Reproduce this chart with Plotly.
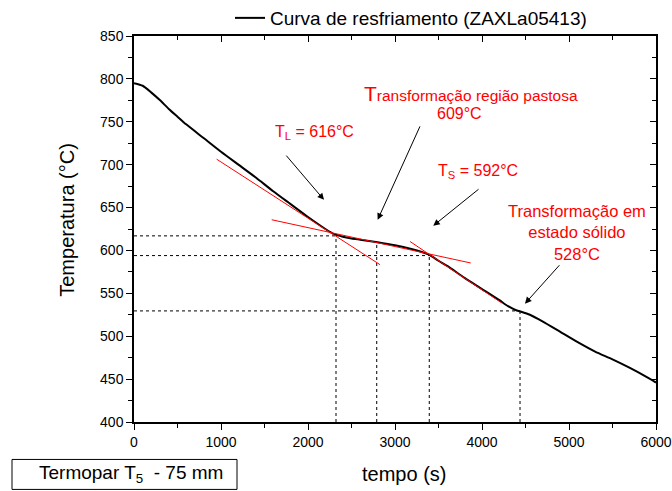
import plotly.graph_objects as go

# ---- data ----
time_s = [0, 100, 200, 300, 400, 500, 600, 800, 1000, 1200, 1400, 1600, 1800, 2000,
          2200, 2300, 2400, 2500, 2600, 2800, 3000, 3200, 3300, 3400, 3500, 3600,
          3800, 4000, 4200, 4300, 4400, 4450, 4550, 4700, 4900, 5100, 5300, 5500,
          5700, 5900, 6000]
temp_c = [795, 792, 784, 775, 765, 756, 747, 731, 715, 700, 685, 669, 654, 639,
          625, 619, 616, 614, 612.5, 609.5, 606, 601.5, 598.5, 594.5, 588, 582,
          568, 555, 542, 535, 530, 528.5, 525, 517, 505, 493, 482, 473,
          463, 452, 446]

# tangent construction lines (start/end points)
tan_liquidus_t = [950, 2828]
tan_liquidus_T = [706.4, 583.4]
tan_pastosa_t = [1583, 3870]
tan_pastosa_T = [635.8, 585.4]
tan_solidus_t = [3172, 4226]
tan_solidus_T = [610.5, 538.8]

# characteristic points (time, temperature) for dotted guides
guide_t = [2322, 2790, 3394, 4437]
guide_T = [617, 609.3, 594, 529.5]
guide_h_idx = [0, 2, 3]  # which points get horizontal guides

x_range = [0, 6000]
y_range = [400, 850]
x_ticks = [0, 1000, 2000, 3000, 4000, 5000, 6000]
y_ticks = [400, 450, 500, 550, 600, 650, 700, 750, 800, 850]

FONT = "Liberation Sans, Arial, Helvetica, sans-serif"
RED = "#ff0000"

fig = go.Figure()

# dotted guide lines
for i, (t, T) in enumerate(zip(guide_t, guide_T)):
    fig.add_trace(go.Scatter(x=[t, t], y=[y_range[0], T], mode="lines",
                             line=dict(color="black", width=1, dash="dot"),
                             showlegend=False, hoverinfo="skip"))
    if i in guide_h_idx:
        fig.add_trace(go.Scatter(x=[x_range[0], t], y=[T, T], mode="lines",
                                 line=dict(color="black", width=1, dash="dot"),
                                 showlegend=False, hoverinfo="skip"))

# main cooling curve
fig.add_trace(go.Scatter(x=time_s, y=temp_c, mode="lines",
                         name="Curva de resfriamento (ZAXLa05413)",
                         line=dict(color="black", width=2, shape="spline", smoothing=0.6)))

# red tangent lines
for tx, ty in [(tan_liquidus_t, tan_liquidus_T), (tan_pastosa_t, tan_pastosa_T),
               (tan_solidus_t, tan_solidus_T)]:
    fig.add_trace(go.Scatter(x=tx, y=ty, mode="lines",
                             line=dict(color=RED, width=1),
                             showlegend=False, hoverinfo="skip"))

# empty trace on mirror axes so that they are drawn
fig.add_trace(go.Scatter(x=[None], y=[None], xaxis="x2", yaxis="y2",
                         showlegend=False, hoverinfo="skip"))

# arrows
arrows = [
    ((1736, 712.3), (2184, 659)),
    ((3295, 746.4), (2801, 635.8)),
    ((3977, 672.7), (3440, 628.8)),
    ((4905, 584.5), (4494, 538)),
]
for (tx, ty), (hx, hy) in arrows:
    fig.add_annotation(x=hx, y=hy, ax=tx, ay=ty, xref="x", yref="y",
                       axref="x", ayref="y", text="", showarrow=True,
                       arrowhead=2, arrowsize=1.3, arrowwidth=1, arrowcolor="black")

# red texts
fig.add_annotation(x=3873, y=782.5, xref="x", yref="y", showarrow=False,
                   text="<span style='font-size:21px'>T</span>ransformação região pastosa",
                   font=dict(family=FONT, size=15.5, color=RED))
fig.add_annotation(x=3747, y=759.2, xref="x", yref="y", showarrow=False,
                   text="609°C", font=dict(family=FONT, size=16, color=RED))
fig.add_annotation(x=2069, y=737, xref="x", yref="y", showarrow=False,
                   text="T<sub>L</sub> = 616°C", font=dict(family=FONT, size=16, color=RED))
fig.add_annotation(x=3954, y=691.7, xref="x", yref="y", showarrow=False,
                   text="T<sub>S</sub> = 592°C", font=dict(family=FONT, size=16, color=RED))
fig.add_annotation(x=5092, y=620.6, xref="x", yref="y", showarrow=False,
                   text="Transformação em<br>estado sólido<br>528°C",
                   font=dict(family=FONT, size=16.5, color=RED))

# axis titles
fig.add_annotation(x=(404 - 134) / 522, y=(422.5 - 475) / 386.5, xref="paper", yref="paper",
                   xanchor="center", yanchor="middle",
                   showarrow=False, text="tempo (s)",
                   font=dict(family=FONT, size=20, color="black"))
fig.add_annotation(x=(67 - 134) / 522, y=(422.5 - 220) / 386.5, xref="paper", yref="paper",
                   xanchor="center", yanchor="middle",
                   showarrow=False, text="Temperatura (°C)", textangle=-90,
                   font=dict(family=FONT, size=20, color="black"))

# thermocouple box
fig.add_shape(type="rect", xref="paper", yref="paper",
              x0=(12 - 134) / 522, x1=(237 - 134) / 522,
              y0=(422.5 - 460) / 386.5, y1=(422.5 - 490) / 386.5,
              line=dict(color="black", width=1), fillcolor="white", layer="below")
fig.add_annotation(x=(131 - 134) / 522, y=(422.5 - 475) / 386.5, xref="paper", yref="paper",
                   xanchor="center", yanchor="middle",
                   showarrow=False, text="Termopar T<sub>5</sub>  - 75 mm",
                   font=dict(family=FONT, size=19, color="black"))

axis_common = dict(showgrid=False, zeroline=False, showline=True, linecolor="black",
                   linewidth=1.5, tickcolor="black", tickwidth=1.2, automargin=False,
                   tickfont=dict(family=FONT, size=14, color="black"))

fig.update_layout(
    width=672, height=491,
    margin=dict(l=134, r=16, t=36, b=68.5, autoexpand=False),
    paper_bgcolor="white", plot_bgcolor="white",
    font=dict(family=FONT, color="black"),
    xaxis=dict(range=x_range, tickvals=x_ticks, ticks="outside", ticklen=6,
               minor=dict(ticks="outside", dtick=500, ticklen=4, tickcolor="black", tickwidth=1.2),
               **axis_common),
    yaxis=dict(range=y_range, tickvals=y_ticks, ticks="outside", ticklen=6,
               minor=dict(ticks="outside", dtick=25, ticklen=4, tickcolor="black", tickwidth=1.2),
               **axis_common),
    xaxis2=dict(range=x_range, overlaying="x", side="top", anchor="y",
                tickvals=x_ticks, ticks="inside", ticklen=6, showticklabels=False,
                minor=dict(ticks="inside", dtick=500, ticklen=4, tickcolor="black", tickwidth=1.2),
                **axis_common),
    yaxis2=dict(range=y_range, overlaying="y", side="right", anchor="x",
                tickvals=y_ticks, ticks="inside", ticklen=6, showticklabels=False,
                minor=dict(ticks="inside", dtick=25, ticklen=4, tickcolor="black", tickwidth=1.2),
                **axis_common),
    showlegend=True,
    legend=dict(orientation="h", x=(230 - 134) / 522, xanchor="left",
                y=1 + (36 - 18) / 386.5, yanchor="middle",
                bgcolor="rgba(0,0,0,0)", borderwidth=0,
                font=dict(family=FONT, size=19, color="black")),
)

fig.write_html("out.html")
